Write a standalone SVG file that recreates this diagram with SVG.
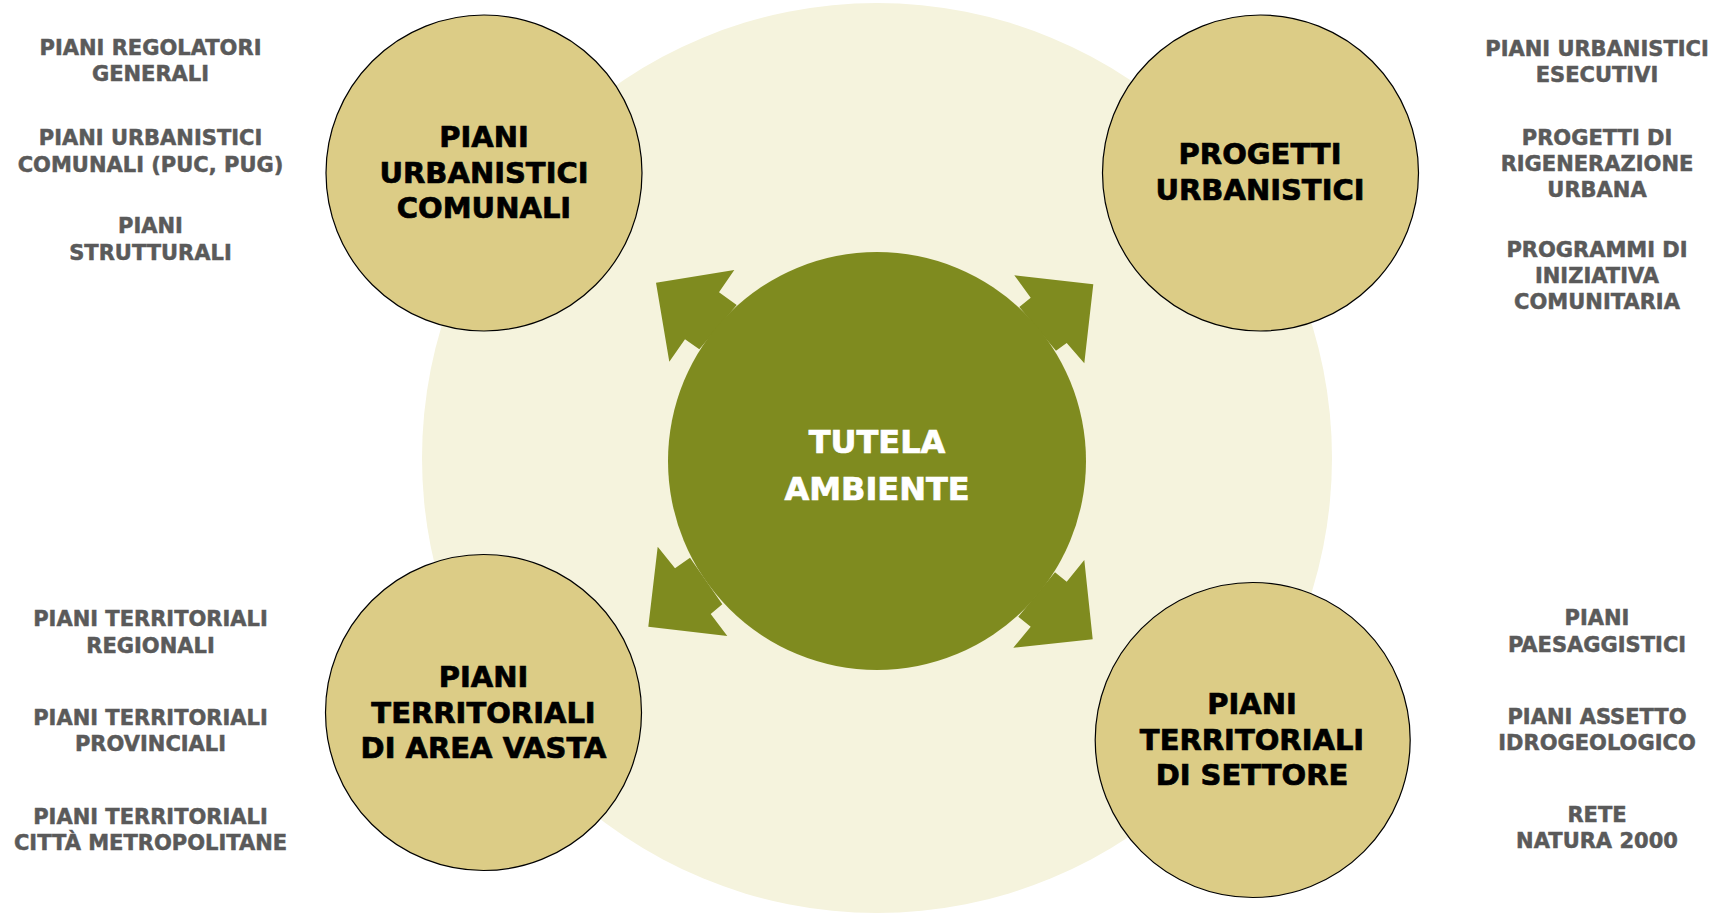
<svg xmlns="http://www.w3.org/2000/svg" width="1732" height="915" viewBox="0 0 1732 915">
<style>
.bg{fill:#ffffff}
.cream{fill:#f5f3dd}
.green{fill:#7f8b1f}
.node{fill:#dccc86;stroke:#000000;stroke-width:1.2}
.title{font-family:"DejaVu Sans","Liberation Sans",sans-serif;font-weight:bold;font-size:29px;fill:#000000;stroke:#000000;stroke-width:0.7;text-anchor:middle}
.center{font-family:"DejaVu Sans","Liberation Sans",sans-serif;font-weight:bold;font-size:32px;fill:#ffffff;stroke:#ffffff;stroke-width:0.7;text-anchor:middle}
.side{font-family:"DejaVu Sans","Liberation Sans",sans-serif;font-weight:bold;font-size:21px;fill:#5a5a5a;stroke:#5a5a5a;stroke-width:0.5;text-anchor:middle}
</style>
<rect class="bg" x="0" y="0" width="1732" height="915"/>
<circle id="backdrop" class="cream" cx="877" cy="458" r="455"/>

<g id="connectors" class="green">
  <polygon points="656,282.7 734.3,270 719,292.3 736.7,305 699.3,349.3 685,339.3 669.3,361.7"/>
  <polygon points="1093.3,284.3 1084.3,363.3 1066.7,343 1056,350.7 1019.3,307 1030.7,297.7 1014.3,275.3"/>
  <polygon points="648.3,626.7 657.7,546.7 675,568.3 690,557.7 722.3,604.3 710.7,614 727.3,636"/>
  <polygon points="1092.7,639.3 1013.3,647.7 1030.7,626.7 1018.3,616.7 1055,572.3 1066.7,581.7 1084.3,560"/>
</g>

<g id="tutela-ambiente">
  <circle class="green" cx="877" cy="461" r="209"/>
  <text class="center" x="877" y="453">TUTELA</text>
  <text class="center" x="877" y="500">AMBIENTE</text>
</g>

<g id="piani-urbanistici-comunali">
  <circle class="node" cx="484" cy="173" r="158"/>
  <text class="title" x="484" y="147">PIANI</text>
  <text class="title" x="484" y="183">URBANISTICI</text>
  <text class="title" x="484" y="218">COMUNALI</text>
</g>

<g id="progetti-urbanistici">
  <circle class="node" cx="1260.5" cy="173" r="158"/>
  <text class="title" x="1260" y="164">PROGETTI</text>
  <text class="title" x="1260" y="200">URBANISTICI</text>
</g>

<g id="piani-territoriali-area-vasta">
  <circle class="node" cx="483.5" cy="712.5" r="158"/>
  <text class="title" x="483.5" y="687">PIANI</text>
  <text class="title" x="483.5" y="723">TERRITORIALI</text>
  <text class="title" x="483.5" y="758">DI AREA VASTA</text>
</g>

<g id="piani-territoriali-settore">
  <circle class="node" cx="1252.7" cy="740" r="157.5"/>
  <text class="title" x="1252" y="714">PIANI</text>
  <text class="title" x="1252" y="750">TERRITORIALI</text>
  <text class="title" x="1252" y="785">DI SETTORE</text>
</g>

<g id="labels-left-top">
  <text class="side" x="150.5" y="55">PIANI REGOLATORI</text>
  <text class="side" x="150.5" y="81">GENERALI</text>
  <text class="side" x="150.5" y="145">PIANI URBANISTICI</text>
  <text class="side" x="150.5" y="172">COMUNALI (PUC, PUG)</text>
  <text class="side" x="150.5" y="233">PIANI</text>
  <text class="side" x="150.5" y="260">STRUTTURALI</text>
</g>

<g id="labels-right-top">
  <text class="side" x="1597" y="56">PIANI URBANISTICI</text>
  <text class="side" x="1597" y="82">ESECUTIVI</text>
  <text class="side" x="1597" y="145">PROGETTI DI</text>
  <text class="side" x="1597" y="171">RIGENERAZIONE</text>
  <text class="side" x="1597" y="197">URBANA</text>
  <text class="side" x="1597" y="257">PROGRAMMI DI</text>
  <text class="side" x="1597" y="283">INIZIATIVA</text>
  <text class="side" x="1597" y="309">COMUNITARIA</text>
</g>

<g id="labels-left-bottom">
  <text class="side" x="150.5" y="626">PIANI TERRITORIALI</text>
  <text class="side" x="150.5" y="653">REGIONALI</text>
  <text class="side" x="150.5" y="725">PIANI TERRITORIALI</text>
  <text class="side" x="150.5" y="751">PROVINCIALI</text>
  <text class="side" x="150.5" y="824">PIANI TERRITORIALI</text>
  <text class="side" x="150.5" y="850">CITTÀ METROPOLITANE</text>
</g>

<g id="labels-right-bottom">
  <text class="side" x="1597" y="625">PIANI</text>
  <text class="side" x="1597" y="652">PAESAGGISTICI</text>
  <text class="side" x="1597" y="724">PIANI ASSETTO</text>
  <text class="side" x="1597" y="750">IDROGEOLOGICO</text>
  <text class="side" x="1597" y="822">RETE</text>
  <text class="side" x="1597" y="848">NATURA 2000</text>
</g>
</svg>
